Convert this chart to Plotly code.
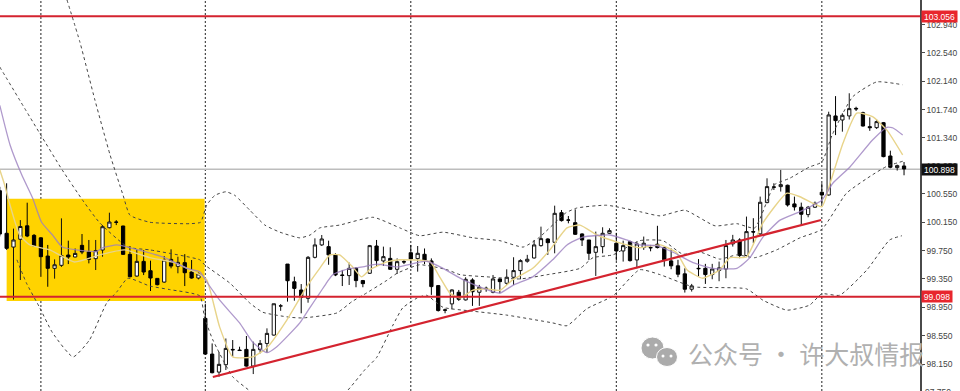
import plotly.graph_objects as go

# (open, high, low, close) read bar by bar
opens = [100.595,99.994,99.80,99.91,100.10,99.965,99.93,99.673,99.50,99.542,99.688,99.66,99.824,99.73,99.636,99.758,100.073,100.153,100.097,99.697,99.391,99.598,99.466,99.358,99.306,99.626,99.528,99.58,99.448,99.363,
98.794,98.29,98.036,98.14,98.356,98.347,98.356,98.12,98.352,98.44,98.558,98.968,99.56,99.31,99.194,99.076,99.655,99.83,99.806,99.69,99.406,99.397,99.50,99.327,99.43,99.815,99.604,99.64,99.486,99.594,
99.72,99.637,99.698,99.604,99.256,98.913,98.998,99.162,99.054,99.336,99.162,99.22,99.162,99.35,99.289,99.374,99.468,99.60,99.646,99.82,99.914,99.867,100.285,100.182,100.144,99.985,99.90,99.726,99.806,99.994,
99.853,99.745,99.876,99.618,99.793,99.793,99.84,99.793,99.605,99.535,99.422,99.205,99.5,99.5,99.412,99.469,99.49,99.845,99.9,99.68,100.018,99.986,100.427,100.648,100.653,100.672,100.409,100.362,100.258,100.362,
100.573,100.535,101.65,101.593,101.65,101.757,101.696,101.499,101.485,101.555,101.085,100.921,100.944]
highs = [100.65,100.70,100.06,100.18,100.426,99.984,99.94,99.83,99.626,100.205,99.89,99.78,99.984,99.90,99.90,100.11,100.285,100.18,100.10,99.815,99.768,99.758,99.608,99.358,99.673,99.768,99.664,99.70,99.617,99.44,
99.0,98.44,98.32,98.51,98.488,98.394,98.545,98.465,98.488,98.653,99.0,98.996,99.56,99.382,99.278,99.673,99.923,99.97,99.89,99.712,99.477,99.58,99.515,99.336,99.83,99.90,99.806,99.797,99.64,99.627,
99.83,99.815,99.78,99.64,99.265,98.932,99.204,99.195,99.374,99.36,99.266,99.242,99.406,99.36,99.486,99.656,99.628,99.69,99.90,100.088,99.924,100.384,100.323,100.238,100.332,99.994,99.90,100.018,100.079,100.065,
100.0,99.89,99.89,99.876,99.948,99.83,100.10,99.807,99.78,99.62,99.50,99.28,99.63,99.563,99.563,99.595,99.90,99.972,99.924,100.23,100.207,100.512,100.77,100.70,100.888,100.681,100.512,100.427,100.38,100.442,
100.70,101.71,101.93,101.687,101.97,101.78,101.71,101.63,101.60,101.565,101.16,100.963,101.0]
lows = [99.95,99.76,99.06,99.335,99.94,99.805,99.38,99.24,99.354,99.52,99.56,99.655,99.70,99.57,99.476,99.664,100.064,100.11,99.688,99.372,99.382,99.405,99.18,99.26,99.297,99.50,99.43,99.25,99.354,99.344,
98.28,98.018,97.97,98.065,98.253,98.338,98.112,98.008,98.30,98.31,98.55,98.90,99.03,99.043,98.865,99.015,99.64,99.815,99.55,99.39,99.25,99.265,99.233,99.233,99.42,99.533,99.533,99.477,99.42,99.56,
99.515,99.453,99.56,99.125,98.89,98.866,98.922,99.04,99.045,98.97,98.97,99.17,99.148,99.148,99.265,99.265,99.345,99.58,99.637,99.806,99.69,99.712,100.16,100.135,99.97,99.815,99.618,99.392,99.712,99.985,
99.609,99.595,99.595,99.5,99.76,99.74,99.78,99.525,99.487,99.375,99.158,99.172,99.384,99.28,99.346,99.318,99.36,99.807,99.643,99.666,99.854,99.97,100.418,100.606,100.583,100.371,100.315,100.113,100.22,100.352,
100.395,100.526,101.38,101.428,101.60,101.72,101.5,101.44,101.466,101.067,100.912,100.879,100.813]
closes = [99.984,99.782,99.90,100.09,99.956,99.815,99.664,99.50,99.55,99.68,99.66,99.71,99.73,99.626,99.75,100.087,100.153,100.15,99.697,99.382,99.598,99.448,99.363,99.269,99.617,99.532,99.584,99.438,99.363,99.42,
98.29,98.027,98.145,98.37,98.35,98.34,98.12,98.356,98.44,98.582,99.0,98.97,99.325,99.217,99.09,99.655,99.83,99.914,99.69,99.406,99.40,99.50,99.327,99.284,99.82,99.609,99.665,99.486,99.594,99.59,
99.632,99.712,99.618,99.242,98.904,98.91,99.195,99.063,99.345,99.17,99.233,99.215,99.35,99.312,99.374,99.468,99.609,99.628,99.83,99.919,99.862,100.276,100.173,100.18,99.98,99.90,99.712,99.806,99.994,100.032,
99.745,99.82,99.609,99.844,99.854,99.79,99.793,99.62,99.535,99.417,99.205,99.252,99.495,99.412,99.49,99.506,99.821,99.9,99.68,100.018,100.012,100.432,100.653,100.645,100.681,100.394,100.366,100.263,100.362,100.418,
100.535,101.664,101.584,101.659,101.753,101.75,101.508,101.485,101.57,101.076,100.926,100.949,100.902]
bars = list(range(len(opens)))

purple_x = [0,1.5,3.2,4.8,6.1,7.7,9.1,11.2,14.2,15,17.1,18.7,23.8,27.3,29.2,30.2,32.1,35,36.9,39,40.4,43.8,45.3,46.7,47.8,48.6,50.7,53,55,58,62.3,64.7,67.6,71.1,73,74.9,77.8,80.7,82.8,85.1,89.1,91.5,93.4,95.9,98.2,101.2,104.1,107.6,109.5,111.4,113.9,116.8,120,121.6,124.1,127.4,129.5,130.4,131.8]
purple_y = [101.80,101.24,100.82,100.49,100.15,99.97,99.80,99.76,99.74,99.79,99.83,99.80,99.66,99.50,99.45,99.31,99.05,98.73,98.46,98.31,98.39,98.73,98.95,99.15,99.31,99.41,99.49,99.52,99.56,99.52,99.60,99.50,99.34,99.20,99.15,99.26,99.38,99.62,99.83,99.94,99.97,99.90,99.83,99.82,99.73,99.58,99.50,99.50,99.65,99.94,100.18,100.30,100.46,100.70,100.93,101.31,101.49,101.48,101.38]
yellow_x = [0,.7,1.5,2.9,4.4,7.3,10.9,14.6,18.2,21.9,25.5,29.2,30.2,32.1,34,36.9,39,41.9,44.8,46.7,48.2,49.6,51.5,52.8,54,56.5,58.4,62.8,64.2,65.7,67.2,69,71.1,73,74.9,77.8,80.3,82.8,84.7,87.2,90.5,93.4,96.4,98.8,100.3,102.6,105.1,106.6,109,111.4,114.9,116.8,120,121.2,123.1,125.1,127.4,129.5,131.8]
yellow_y = [100.89,100.68,100.39,99.97,99.83,99.76,99.59,99.69,99.76,99.65,99.58,99.41,99.34,98.67,98.25,98.25,98.38,98.77,99.24,99.50,99.69,99.69,99.52,99.38,99.48,99.59,99.62,99.59,99.38,99.15,99.08,99.19,99.21,99.19,99.34,99.50,99.76,100.07,100.11,99.97,99.86,99.79,99.83,99.72,99.48,99.36,99.48,99.65,99.66,100.14,100.56,100.51,100.37,100.70,101.27,101.69,101.64,101.45,101.10]
upper_x = [9.8,11.7,13.9,16.1,18,19,21.9,27.7,29.3,30.2,31.4,33,34.3,36.5,38.7,40.9,43.8,45.3,46.7,49.6,54.5,58.4,61.3,64.7,69.1,73,76.4,78.8,82.6,84.2,88.6,93.4,96.4,100,104.4,107.6,110.2,113.1,115.3,118.2,120,121.5,124.5,128,131.8]
upper_y = [103.29,102.69,101.87,101.10,100.53,100.25,100.15,100.13,100.15,100.39,100.53,100.58,100.53,100.32,100.11,100.01,99.93,99.97,100.07,100.11,100.22,100.07,99.96,100.01,99.93,99.89,99.80,99.94,100.28,100.35,100.39,100.30,100.24,100.32,100.10,100.13,100.07,100.68,100.77,100.93,101.00,101.38,101.92,102.13,102.09]
middle_x = [0,5.8,9.1,12.1,14.6,18.7,21.9,29.2,29.9,33.6,36.5,38.4,42.3,44.2,49.2,51.4,53,56.5,58,61.3,65.3,67.2,71.1,75.9,79.9,84.7,86.6,89.5,93.4,96.8,99.7,102.2,105.1,107.6,110.2,113.4,116.8,120,123.6,127.4,129.5,131.8]
middle_y = [102.34,101.41,100.89,100.46,100.14,99.80,99.76,99.62,99.55,99.29,99.01,98.88,98.81,98.80,98.87,99.03,99.12,99.33,99.43,99.55,99.48,99.41,99.38,99.35,99.41,99.50,99.65,99.69,99.89,99.89,99.70,99.73,99.63,99.69,99.65,99.76,99.93,100.05,100.56,100.82,100.94,101.01]
lower_x = [2.5,3.9,5.8,7.7,10.7,13.1,15.6,17.1,18.7,21.9,24.8,29.2,29.9,31.1,34,36.5,37.2,43.8,50.7,53.3,55,57.4,58.8,60.9,62.3,64.7,68.6,74,80.7,82.8,85.7,89.5,93.4,96.4,101.2,109,111.4,114.9,118.2,120,122.6,126.6,129.9,131.7]
lower_y = [99.62,99.29,98.95,98.59,98.25,98.49,99.01,99.17,99.36,99.25,99.20,99.11,98.80,98.49,97.97,97.77,97.71,97.22,97.77,98.07,98.24,98.70,98.94,99.08,99.12,98.95,98.90,98.84,98.73,98.69,98.93,99.11,99.48,99.41,99.24,99.21,99.05,98.91,98.98,99.14,99.12,99.48,99.90,99.96]

trend_x = [31.1, 119.9]
trend_y = [97.967, 100.182]
level_top = 103.056
level_bottom = 99.098
level_last = 100.898
session_bars = [6, 30, 60, 90, 120]
box_x = [1, 29.9]
box_y = [99.04, 100.48]

tick_vals = [98.15,98.55,98.95,99.35,99.75,100.15,100.55,100.95,101.34,101.74,102.14,102.54,102.94]
tick_text = ["98.150","98.550","98.950","99.350","99.750","100.150","100.550","100.950","101.340","101.740","102.140","102.540","102.940"]
bottom_tick = "97.750"
watermark = "公众号 · 许大叔情报"

W, H, PLOT_W = 960, 391, 920
DARK = "#4a4a4a"
RED = "#d4232f"
px = lambda v: v / PLOT_W
py = lambda v: 1 - v / H

fig = go.Figure()
fig.add_trace(go.Candlestick(
    x=bars, open=opens, high=highs, low=lows, close=closes, whiskerwidth=0,
    increasing=dict(fillcolor="white", line=dict(color="#111111", width=1)),
    decreasing=dict(fillcolor="black", line=dict(color="black", width=1)),
    hoverinfo="skip"))
for xs, ys in [(upper_x, upper_y), (middle_x, middle_y), (lower_x, lower_y)]:
    fig.add_trace(go.Scatter(x=xs, y=ys, mode="lines", hoverinfo="skip",
                             line=dict(color="#444444", width=1, dash="3px,3px", shape="spline", smoothing=0.5)))
fig.add_trace(go.Scatter(x=yellow_x, y=yellow_y, mode="lines", hoverinfo="skip",
                         line=dict(color="#e8d48a", width=1.4, shape="spline", smoothing=0.5)))
fig.add_trace(go.Scatter(x=purple_x, y=purple_y, mode="lines", hoverinfo="skip", opacity=0.8,
                         line=dict(color="#9c80c0", width=1.3, shape="spline", smoothing=0.5)))
fig.add_trace(go.Scatter(x=trend_x, y=trend_y, mode="lines", hoverinfo="skip",
                         line=dict(color=RED, width=2.2)))

shapes = [dict(type="rect", xref="x", yref="y", x0=box_x[0], x1=box_x[1], y0=box_y[0], y1=box_y[1],
               fillcolor="#ffd300", line_width=0, layer="below")]
for b in session_bars:
    shapes.append(dict(type="line", xref="x", yref="paper", x0=b, x1=b, y0=0, y1=1, layer="below",
                       line=dict(color="#222222", width=1, dash="2px,2px")))
shapes.append(dict(type="line", xref="paper", yref="y", x0=0, x1=1, y0=level_last, y1=level_last,
                   layer="below", line=dict(color="#bdbdbd", width=1.5)))
for lv in (level_top, level_bottom):
    shapes.append(dict(type="line", xref="paper", yref="y", x0=0, x1=1, y0=lv, y1=lv,
                       line=dict(color=RED, width=2)))
# watermark icon: two speech bubbles with their eyes
for cx, cy, rx, ry, fill in [(652.5, 348, 11.5, 11, "#ababab"), (667, 357, 10.5, 9.5, "#ababab"),
                             (648, 345, 1.6, 1.6, "white"), (656, 345, 1.6, 1.6, "white"),
                             (663, 356, 1.5, 1.5, "white"), (671, 356, 1.5, 1.5, "white")]:
    shapes.append(dict(type="circle", xref="paper", yref="paper", x0=px(cx - rx), x1=px(cx + rx),
                       y0=py(cy + ry), y1=py(cy - ry), fillcolor=fill,
                       line=dict(color="white", width=1 if rx > 5 else 0)))

annotations = [dict(text=watermark, xref="paper", yref="paper", x=px(686), y=py(353), xanchor="left",
                    yanchor="middle", showarrow=False, font=dict(family="Noto Sans CJK SC", size=25, color="#b0b0b0")),
               dict(text=bottom_tick, xref="paper", yref="paper", x=px(924), y=py(392), xanchor="left",
                    yanchor="middle", showarrow=False, borderpad=0,
                    font=dict(family="Liberation Sans", size=8.5, color="#444444"))]
for value, bg, w in [(level_top, "#e8262d", 35), (level_last, "#111111", 35), (level_bottom, "#e8262d", 30)]:
    annotations.append(dict(text=f"{value:.3f}", xref="paper", yref="y", x=px(921.5), y=value, xanchor="left",
                            yanchor="middle", showarrow=False, bgcolor=bg, width=w, height=11, borderpad=0,
                            font=dict(family="Liberation Sans", size=8.5, color="white")))

fig.update_layout(
    width=W, height=H, autosize=False, margin=dict(l=0, r=W - PLOT_W, t=0, b=0, autoexpand=False),
    paper_bgcolor="white", plot_bgcolor="white", showlegend=False, boxgap=0.32,
    shapes=shapes, annotations=annotations,
    xaxis=dict(range=[0.03, 134.33], visible=False, rangeslider=dict(visible=False), fixedrange=True),
    yaxis=dict(range=[97.769, 103.286], side="right", tickmode="array", tickvals=tick_vals, ticktext=tick_text,
               ticks="outside", ticklen=3, tickcolor=DARK, showgrid=False, zeroline=False, showline=True,
               linecolor=DARK, linewidth=1.5, fixedrange=True, automargin=False,
               tickfont=dict(family="Liberation Sans", size=8.5, color="#444444")),
)
fig.write_html("out.html", config=dict(displayModeBar=False),
               post_script="document.body.style.margin='0';document.body.style.overflow='hidden';")
